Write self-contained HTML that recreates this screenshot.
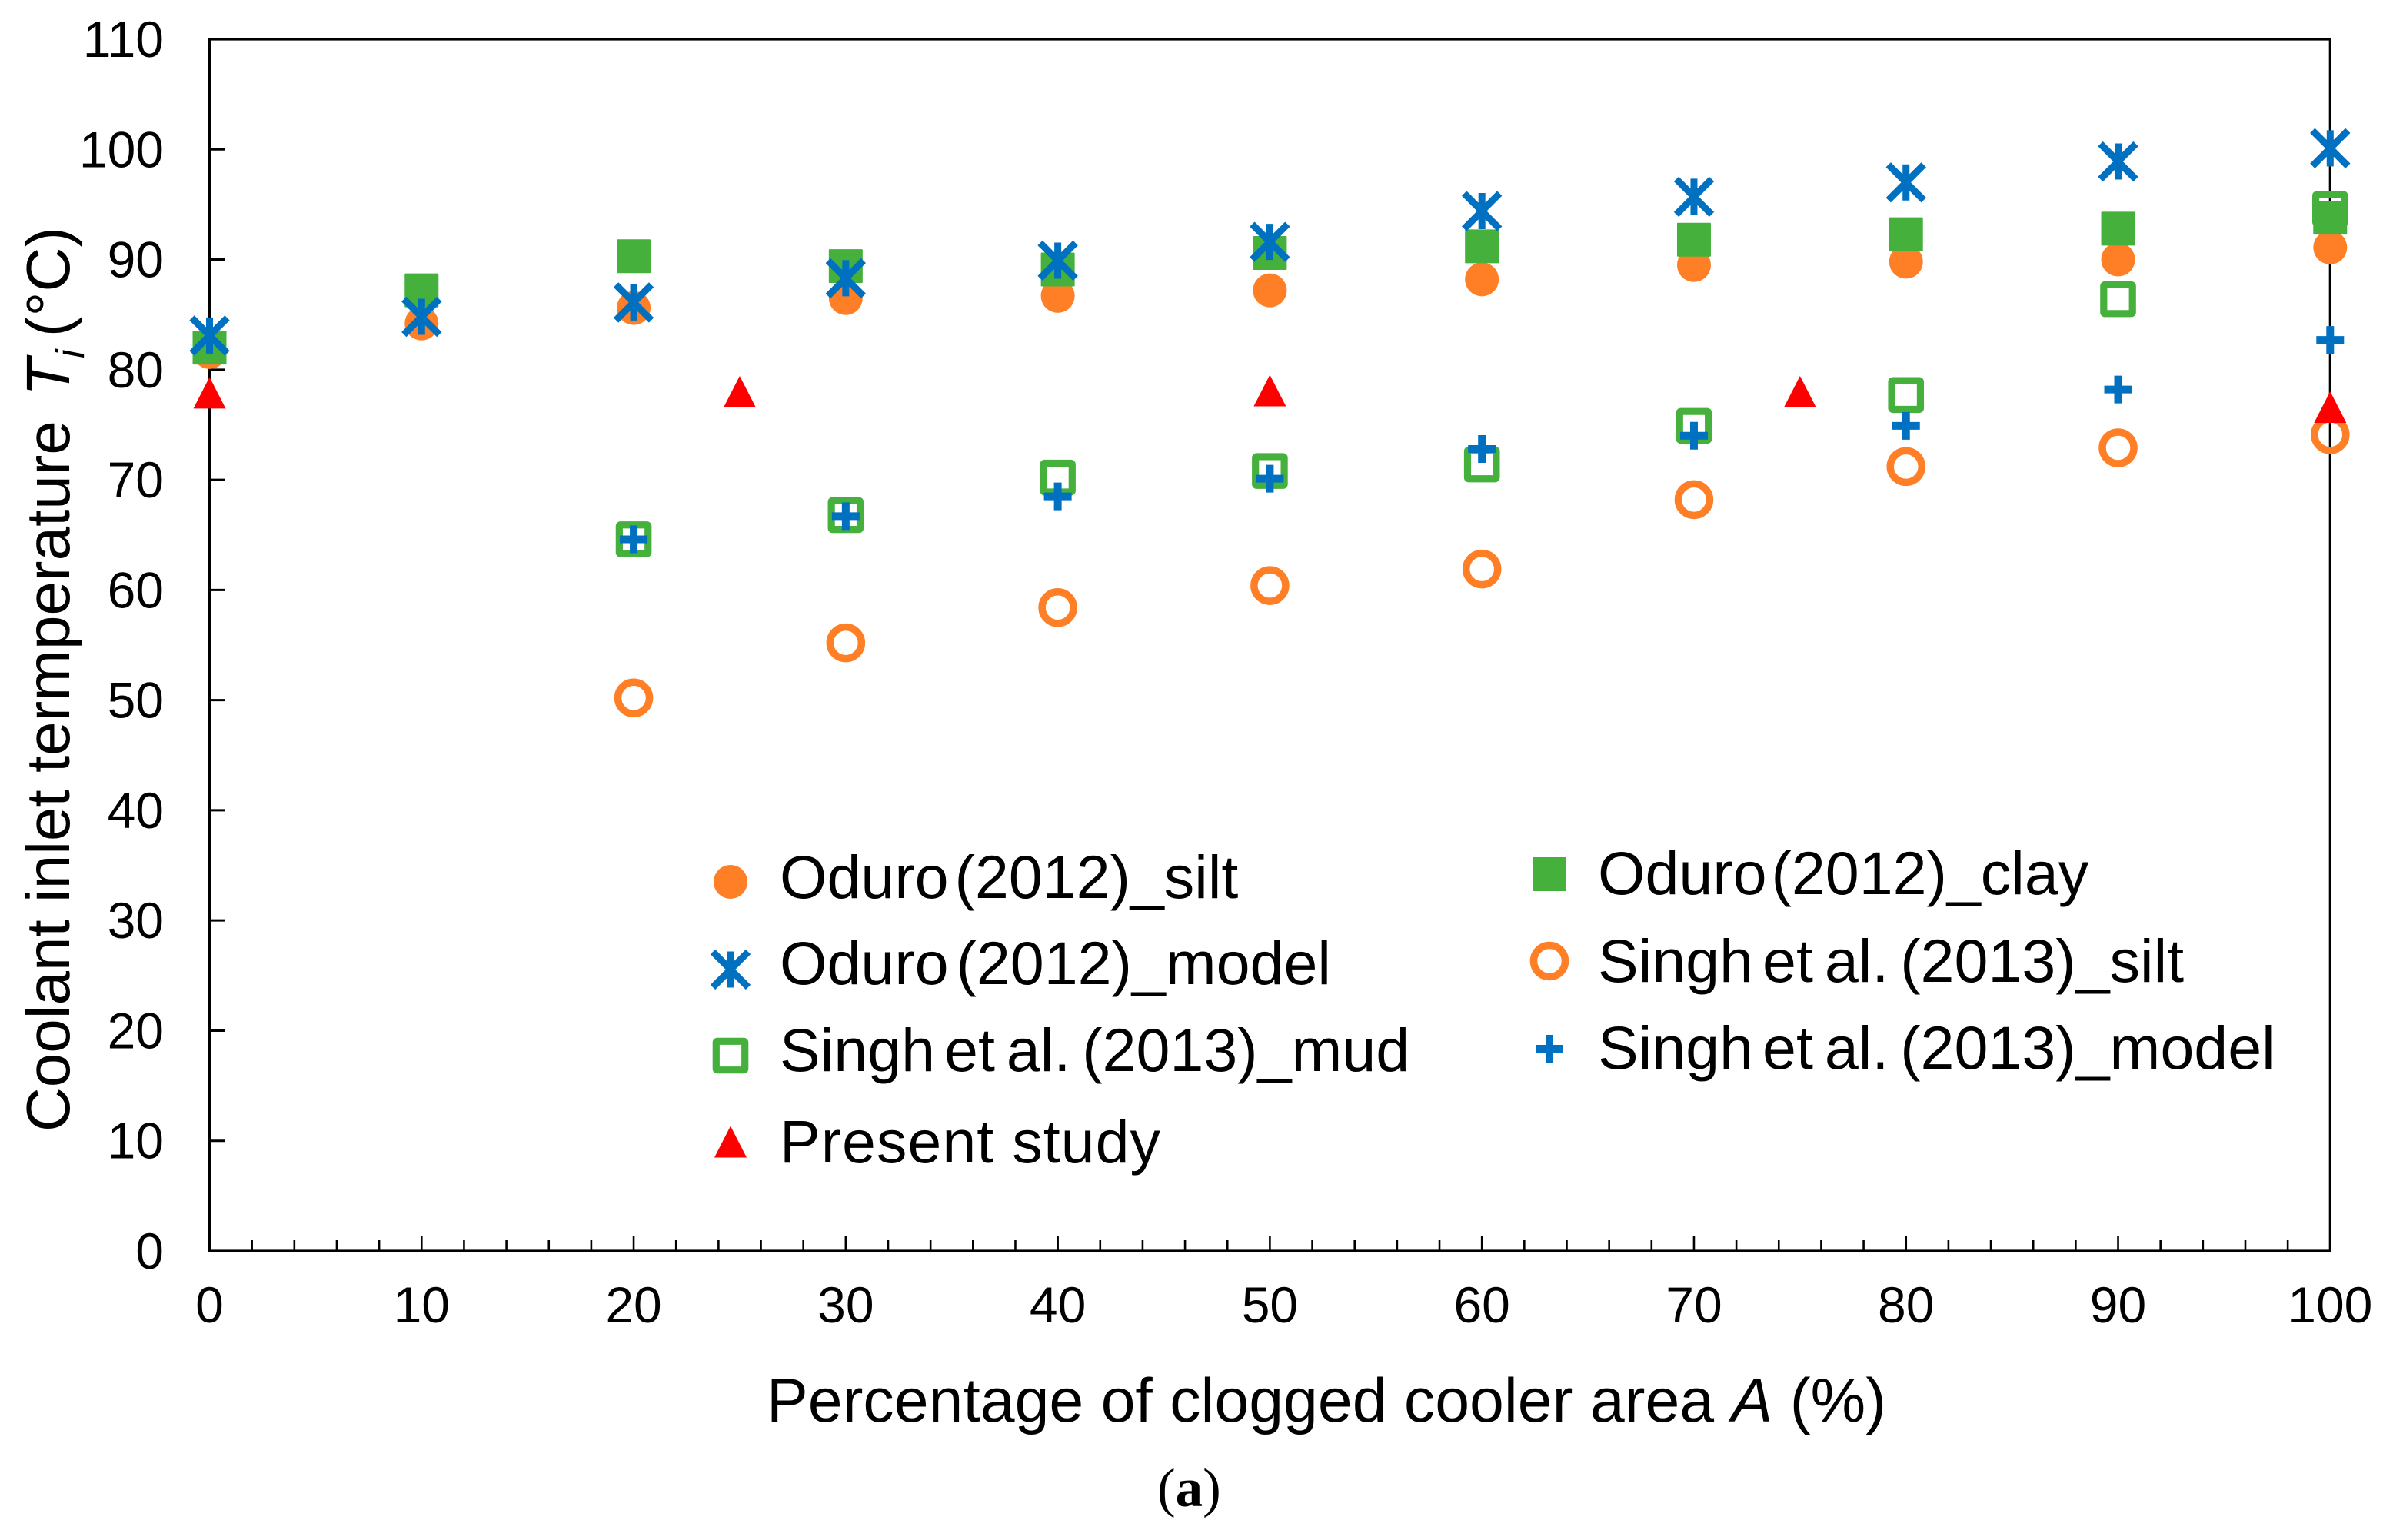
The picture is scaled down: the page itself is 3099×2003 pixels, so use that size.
<!DOCTYPE html>
<html lang="en">
<head>
<meta charset="utf-8">
<title>Coolant inlet temperature chart</title>
<style>
html,body{margin:0;padding:0;background:#fff;}
svg{display:block;}
text{font-family:"Liberation Sans",sans-serif;fill:#000;}
.serif{font-family:"Liberation Serif",serif;}
.tight{word-spacing:-7px;}
</style>
</head>
<body>
<svg id="chart" xmlns="http://www.w3.org/2000/svg" width="3099" height="2003" viewBox="0 0 3099 2003">
  <rect x="0" y="0" width="3099" height="2003" fill="#fff"/>
  <g id="axes"></g>
  <g id="marks"></g>

  <text x="997" y="1849" font-size="80.6">Percentage of clogged cooler area <tspan font-style="italic">A</tspan> (%)</text>
  <text transform="translate(90,1472) rotate(-90)" font-size="80">Coolant inlet termperature <tspan font-style="italic" dx="10">T</tspan><tspan font-style="italic" font-size="52" dy="19">i</tspan><tspan dy="-19" dx="-6"> (°C)</tspan></text>
  <text class="serif" x="1505" y="1959" font-size="71">(<tspan font-weight="bold">a</tspan>)</text>

  <g id="legend">
    <g>
      <g id="lg-silt"></g>
      <text x="1014" y="1168" font-size="79">Oduro <tspan dx="-14">(2012)_silt</tspan></text>
    </g>
    <g>
      <g id="lg-model"></g>
      <text x="1014" y="1280" font-size="79">Oduro <tspan dx="-12">(2012)_model</tspan></text>
    </g>
    <g>
      <g id="lg-mud"></g>
      <text x="1014" y="1393" font-size="79">Singh <tspan dx="-10" class="tight">et al. (2013)_mud</tspan></text>
    </g>
    <g>
      <g id="lg-present"></g>
      <text x="1014" y="1512" font-size="79" letter-spacing="1">Present study</text>
    </g>
    <g>
      <g id="lg-clay"></g>
      <text x="2078" y="1163" font-size="79">Oduro <tspan dx="-16">(2012)_clay</tspan></text>
    </g>
    <g>
      <g id="lg-singh-silt"></g>
      <text x="2078" y="1277" font-size="79">Singh <tspan dx="-10" class="tight">et al. (2013)_silt</tspan></text>
    </g>
    <g>
      <g id="lg-singh-model"></g>
      <text x="2078" y="1390" font-size="79">Singh <tspan dx="-10" class="tight">et al. (2013)_model</tspan></text>
    </g>
  </g>
</svg>
<script>
// ---- data ----
const xTickLabels = [0, 10, 20, 30, 40, 50, 60, 70, 80, 90, 100];
const yTickLabels = [0, 10, 20, 30, 40, 50, 60, 70, 80, 90, 100, 110];
const xMinorTicks = [2, 4, 6, 8, 12, 14, 16, 18, 22, 24, 26, 28, 32, 34, 36, 38, 42, 44, 46, 48, 52, 54, 56, 58, 62, 64, 66, 68, 72, 74, 76, 78, 82, 84, 86, 88, 92, 94, 96, 98];

const oduroX = [0, 10, 20, 30, 40, 50, 60, 70, 80, 90, 100];
const oduroSilt = [81.6, 84.2, 85.6, 86.5, 86.7, 87.2, 88.2, 89.5, 89.8, 90.0, 91.1];
const oduroClay = [82.0, 87.2, 90.3, 89.4, 89.1, 90.6, 91.2, 91.8, 92.3, 92.8, 93.8];
const oduroModel = [83.1, 84.8, 86.1, 88.3, 89.9, 91.6, 94.4, 95.7, 97.0, 98.9, 100.1];

const singhX = [20, 30, 40, 50, 60, 70, 80, 90, 100];
const singhSilt = [50.2, 55.2, 58.4, 60.4, 61.9, 68.2, 71.2, 72.9, 74.1];
const singhMud = [64.6, 66.8, 70.2, 70.8, 71.4, 74.9, 77.7, 86.4, 94.6];
const singhModel = [64.6, 66.7, 68.5, 70.1, 72.8, 74.0, 74.9, 78.2, 82.7];

const presentX = [0, 25, 50, 75, 100];
const presentStudy = [77.9, 78.0, 78.1, 78.0, 76.6];

// ---- axis functions ----
const plotLeft = 272.5, plotRight = 3030.3, plotTop = 51, plotBottom = 1627;
const xMax = 100, yMax = 110;
function xScale(v) { return plotLeft + (v / xMax) * (plotRight - plotLeft); }
function yScale(v) { return plotBottom - (v / yMax) * (plotBottom - plotTop); }

const NS = 'http://www.w3.org/2000/svg';
const ORANGE = '#FF7F27', GREEN = '#45B03C', BLUE = '#0070C0', RED = '#FF0000';

function make(tag, attrs, parent) {
  const el = document.createElementNS(NS, tag);
  for (const k in attrs) el.setAttribute(k, attrs[k]);
  parent.appendChild(el);
  return el;
}

// ---- axes ----
const axes = document.getElementById('axes');
const frame = make('rect', { x: plotLeft, y: plotTop, width: plotRight - plotLeft, height: plotBottom - plotTop, fill: 'none', stroke: '#000', 'stroke-width': 3.2 }, axes);



xTickLabels.forEach(function (v) {
  const t = make('line', { x1: xScale(v), x2: xScale(v), y1: plotBottom, y2: plotBottom - 19, stroke: '#000', 'stroke-width': 2.6 }, axes);
  
  
  const l = make('text', { x: xScale(v), y: 1720, 'font-size': 66, 'text-anchor': 'middle' }, axes);
  
  
  l.textContent = v;
});
xMinorTicks.forEach(function (v) {
  const t = make('line', { x1: xScale(v), x2: xScale(v), y1: plotBottom, y2: plotBottom - 14, stroke: '#000', 'stroke-width': 2.6 }, axes);
  
  
});
yTickLabels.forEach(function (v) {
  const t = make('line', { x1: plotLeft, x2: plotLeft + 20, y1: yScale(v), y2: yScale(v), stroke: '#000', 'stroke-width': 3 }, axes);
  
  
  const l = make('text', { x: 213, y: yScale(v) + 23, 'font-size': 66, 'text-anchor': 'end' }, axes);
  
  
  l.textContent = v;
});

// ---- marker drawing ----
function drawCircle(p, cx, cy) { make('circle', { cx: cx, cy: cy, r: 22, fill: ORANGE }, p); }
function drawOpenCircle(p, cx, cy) { make('circle', { cx: cx, cy: cy, r: 20.5, fill: 'none', stroke: ORANGE, 'stroke-width': 9.5 }, p); }
function drawSquare(p, cx, cy) { make('rect', { x: cx - 22, y: cy - 22, width: 44, height: 44, fill: GREEN, rx: 1 }, p); }
function drawOpenSquare(p, cx, cy) { make('rect', { x: cx - 18.7, y: cy - 18.7, width: 37.4, height: 37.4, fill: 'none', stroke: GREEN, 'stroke-width': 9.2, rx: 1.5 }, p); }
function drawStar(p, cx, cy) {
  make('path', { d: 'M' + cx + ' ' + (cy - 23.5) + 'V' + (cy + 23.5) + 'M' + (cx - 23) + ' ' + (cy - 23) + 'L' + (cx + 23) + ' ' + (cy + 23) + 'M' + (cx - 23) + ' ' + (cy + 23) + 'L' + (cx + 23) + ' ' + (cy - 23), fill: 'none', stroke: BLUE, 'stroke-width': 9 }, p);
}
function drawPlus(p, cx, cy) {
  make('path', { d: 'M' + cx + ' ' + (cy - 18) + 'V' + (cy + 18) + 'M' + (cx - 18) + ' ' + cy + 'H' + (cx + 18), fill: 'none', stroke: BLUE, 'stroke-width': 10 }, p);
}
function drawTriangle(p, cx, cy) {
  make('polygon', { points: cx + ',' + (cy - 20.5) + ' ' + (cx + 21) + ',' + (cy + 20.5) + ' ' + (cx - 21) + ',' + (cy + 20.5), fill: RED }, p);
}

const marks = document.getElementById('marks');

const gSinghSilt = make('g', {}, marks);


singhSilt.forEach(function (v, i) { drawOpenCircle(gSinghSilt, xScale(singhX[i]), yScale(v)); });

const gSinghMud = make('g', {}, marks);


singhMud.forEach(function (v, i) { drawOpenSquare(gSinghMud, xScale(singhX[i]), yScale(v)); });

const gOduroSilt = make('g', {}, marks);


oduroSilt.forEach(function (v, i) { drawCircle(gOduroSilt, xScale(oduroX[i]), yScale(v)); });

const gOduroClay = make('g', {}, marks);


oduroClay.forEach(function (v, i) { drawSquare(gOduroClay, xScale(oduroX[i]), yScale(v)); });

const gOduroModel = make('g', {}, marks);


oduroModel.forEach(function (v, i) { drawStar(gOduroModel, xScale(oduroX[i]), yScale(v)); });

const gSinghModel = make('g', {}, marks);


singhModel.forEach(function (v, i) { drawPlus(gSinghModel, xScale(singhX[i]), yScale(v)); });

const gPresent = make('g', {}, marks);


presentStudy.forEach(function (v, i) { drawTriangle(gPresent, xScale(presentX[i]), yScale(v)); });

// ---- legend swatches ----
drawCircle(document.getElementById('lg-silt'), 950, 1147);
drawStar(document.getElementById('lg-model'), 950, 1261);
drawOpenSquare(document.getElementById('lg-mud'), 950, 1373);
drawTriangle(document.getElementById('lg-present'), 950, 1485);
drawSquare(document.getElementById('lg-clay'), 2015, 1137);
drawOpenCircle(document.getElementById('lg-singh-silt'), 2015, 1250);
drawPlus(document.getElementById('lg-singh-model'), 2015, 1364);
</script>
</body>
</html>
